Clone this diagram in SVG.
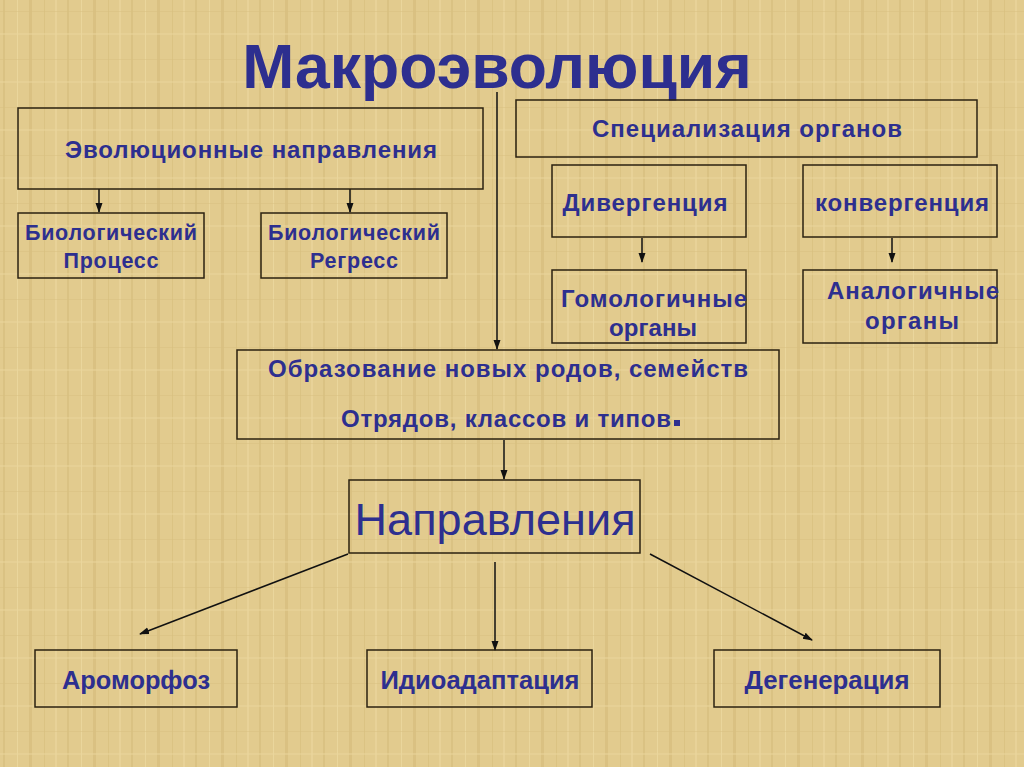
<svg xmlns="http://www.w3.org/2000/svg" width="1024" height="767" viewBox="0 0 1024 767">
<style>
.box{fill:none;stroke:#2b2210;stroke-width:1.5}
.t{font-family:"Liberation Sans",Arial,sans-serif;font-weight:bold;fill:#2d2f8f;text-anchor:middle;font-size:24px}
.s{font-family:"Liberation Sans",Arial,sans-serif;font-weight:bold;fill:#2d2f8f;text-anchor:middle;font-size:21.5px}
.n{font-family:"Liberation Sans",Arial,sans-serif;font-weight:bold;fill:#2d2f8f;text-anchor:middle;font-size:25px}
.c{stroke:#111;stroke-width:1.5;fill:none;marker-end:url(#ah)}
</style>
<defs>
<marker id="ah" markerWidth="10" markerHeight="10" refX="9" refY="5" orient="auto" markerUnits="userSpaceOnUse">
<path d="M0,1.5 L10,5 L0,8.5 Z" fill="#111"/>
</marker>
<pattern id="paper" width="64" height="48" patternUnits="userSpaceOnUse">
<rect width="64" height="48" fill="#e2cb8e"/>
<rect x="3" width="2" height="48" fill="#d6bc7b" opacity="0.6"/>
<rect x="17" width="1" height="48" fill="#eedaa3" opacity="0.7"/>
<rect x="29" width="3" height="48" fill="#d2b776" opacity="0.5"/>
<rect x="44" width="1" height="48" fill="#d9c07f" opacity="0.7"/>
<rect x="55" width="2" height="48" fill="#ecd79e" opacity="0.6"/>
<rect y="11" width="64" height="1" fill="#d8bf80" opacity="0.5"/>
<rect y="33" width="64" height="2" fill="#ead59c" opacity="0.5"/>
</pattern>
</defs>
<rect width="1024" height="767" fill="url(#paper)"/>
<text x="497" y="88" style="font-family:'Liberation Sans',Arial,sans-serif;font-weight:bold;font-size:62.5px;fill:#2d2f8f;text-anchor:middle">Макроэволюция</text>

<g id="connectors">
<line class="c" x1="99" y1="189" x2="99" y2="212"/>
<line class="c" x1="350" y1="189" x2="350" y2="212"/>
<line class="c" x1="497" y1="92" x2="497" y2="349"/>
<line class="c" x1="642" y1="238" x2="642" y2="262"/>
<line class="c" x1="892" y1="238" x2="892" y2="262"/>
<line class="c" x1="504" y1="440" x2="504" y2="479"/>
<line class="c" x1="348" y1="554" x2="140" y2="634"/>
<line class="c" x1="495" y1="562" x2="495" y2="650"/>
<line class="c" x1="650" y1="554" x2="812" y2="640"/>
</g>

<g id="evol"><rect class="box" x="18" y="108" width="465" height="81"/><text class="t" x="251" y="158" textLength="372" lengthAdjust="spacing">Эволюционные направления</text></g>
<g id="bioproc"><rect class="box" x="18" y="213" width="186" height="65"/><text class="s" x="111" y="240" textLength="172" lengthAdjust="spacing">Биологический</text><text class="s" x="111" y="268" textLength="95" lengthAdjust="spacing">Процесс</text></g>
<g id="bioregr"><rect class="box" x="261" y="213" width="186" height="65"/><text class="s" x="354" y="240" textLength="172" lengthAdjust="spacing">Биологический</text><text class="s" x="354" y="268" textLength="88" lengthAdjust="spacing">Регресс</text></g>
<g id="spec"><rect class="box" x="516" y="100" width="461" height="57"/><text class="t" x="747" y="137" textLength="310" lengthAdjust="spacing">Специализация органов</text></g>
<g id="div"><rect class="box" x="552" y="165" width="194" height="72"/><text class="t" x="645" y="211" textLength="165" lengthAdjust="spacing">Дивергенция</text></g>
<g id="conv"><rect class="box" x="803" y="165" width="194" height="72"/><text class="t" x="902" y="211" textLength="174" lengthAdjust="spacing">конвергенция</text></g>
<g id="homo"><rect class="box" x="552" y="270" width="194" height="73"/><text class="t" x="654" y="307" textLength="186" lengthAdjust="spacing">Гомологичные</text><text class="t" x="653" y="336" textLength="88" lengthAdjust="spacing">органы</text></g>
<g id="analog"><rect class="box" x="803" y="270" width="194" height="73"/><text class="t" x="913" y="299" textLength="172" lengthAdjust="spacing">Аналогичные</text><text class="t" x="912" y="329" textLength="94" lengthAdjust="spacing">органы</text></g>
<g id="obraz"><rect class="box" x="237" y="350" width="542" height="89"/><text class="t" x="508" y="377" textLength="480" lengthAdjust="spacing">Образование новых родов, семейств</text><text class="t" x="506" y="427" textLength="330" lengthAdjust="spacing">Отрядов, классов и типов</text><rect x="674" y="420" width="6" height="6" fill="#2d2f8f"/></g>
<g id="napr"><rect class="box" x="349" y="480" width="291" height="73"/><text x="495" y="535" textLength="281" lengthAdjust="spacing" style="font-family:'Liberation Sans',Arial,sans-serif;font-size:45px;fill:#2d2f8f;text-anchor:middle">Направления</text></g>
<g id="aromorf"><rect class="box" x="35" y="650" width="202" height="57"/><text class="n" x="136" y="689" textLength="148" lengthAdjust="spacingAndGlyphs">Ароморфоз</text></g>
<g id="idio"><rect class="box" x="367" y="650" width="225" height="57"/><text class="n" x="480" y="689" textLength="199" lengthAdjust="spacingAndGlyphs">Идиоадаптация</text></g>
<g id="degen"><rect class="box" x="714" y="650" width="226" height="57"/><text class="n" x="827" y="689" textLength="165" lengthAdjust="spacingAndGlyphs">Дегенерация</text></g>
</svg>
